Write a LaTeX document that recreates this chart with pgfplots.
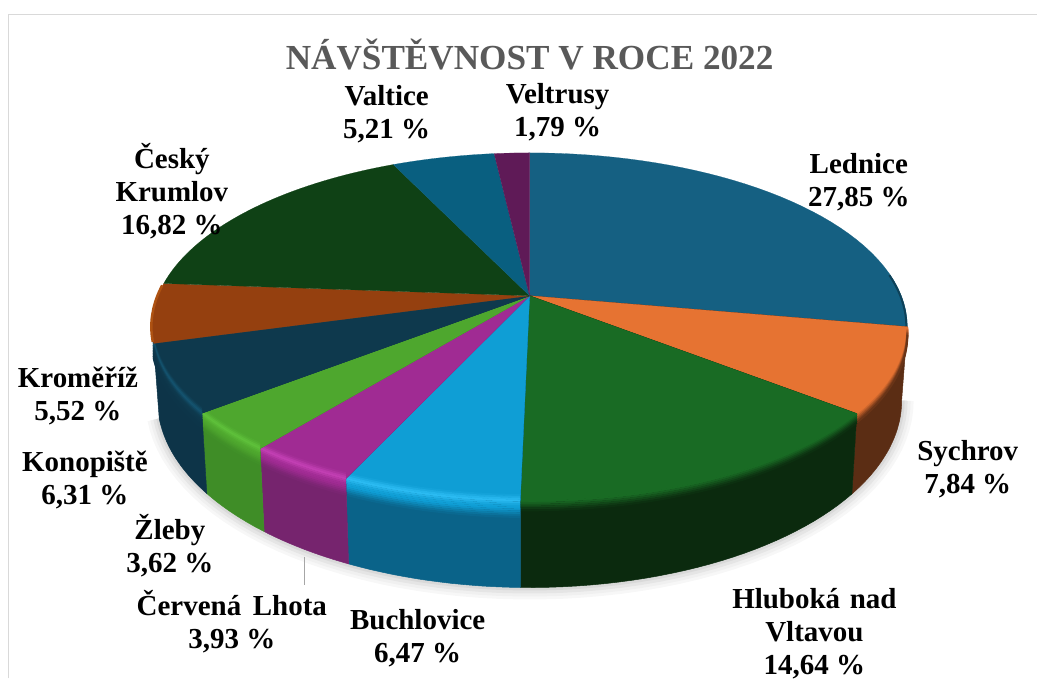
\documentclass[border=0pt]{standalone}
\usepackage{pgfplots}
\pgfplotsset{compat=1.18}
\usepackage{fontspec}
\setmainfont{Liberation Serif}

% Slice colours: top face, rim highlight, outer wall
\definecolor{cA}{HTML}{156082}
\definecolor{cAe}{HTML}{0E4158}
\definecolor{cB}{HTML}{E67332}
\definecolor{cBw}{HTML}{5B2D14}
\definecolor{cC}{HTML}{196B24}
\definecolor{cCw}{HTML}{0B2A0E}
\definecolor{cD}{HTML}{0F9ED5}
\definecolor{cDh}{HTML}{2BBBF2}
\definecolor{cDw}{HTML}{0A6389}
\definecolor{cE}{HTML}{A02B93}
\definecolor{cEh}{HTML}{C23FB3}
\definecolor{cEw}{HTML}{76246E}
\definecolor{cF}{HTML}{4EA72E}
\definecolor{cFh}{HTML}{5EC03A}
\definecolor{cFw}{HTML}{3F8D27}
\definecolor{cG}{HTML}{0E394D}
\definecolor{cGh}{HTML}{14536F}
\definecolor{cGw}{HTML}{0D3448}
\definecolor{cH}{HTML}{95400F}
\definecolor{cHe}{HTML}{AE5212}
\definecolor{cI}{HTML}{0F4115}
\definecolor{cJ}{HTML}{095F80}
\definecolor{cK}{HTML}{5F1A57}
\definecolor{titlegray}{HTML}{595959}
\definecolor{framegray}{HTML}{D9D9D9}

% Running total of the shares, in percent
\newcommand\running{0}

% One band of the rim, following the edge of the top face
\newcommand\RimBand[5]{%
  \addplot[draw=#4,line width=#5pt,domain=#1:#2,samples=30,line cap=butt]
    ({PX(x)},{PY(x)+(#3)*PS(x)});}

% Rim that only darkens from the top colour towards the wall
\newcommand\RimPlain[4]{%
  \RimBand{#1}{#2}{0.5}{#3}{2}
  \RimBand{#1}{#2}{2}{#4!15!#3}{2}
  \RimBand{#1}{#2}{3.5}{#4!35!#3}{2}
  \RimBand{#1}{#2}{5}{#4!55!#3}{2}
  \RimBand{#1}{#2}{6.5}{#4!75!#3}{2}
  \RimBand{#1}{#2}{8}{#4!90!#3}{2}
}
% Rim with a bright line along the edge, then darkening towards the wall
\newcommand\RimBright[5]{%
  \RimBand{#1}{#2}{-4.5}{#4!15!#3}{2}
  \RimBand{#1}{#2}{-3}{#4!45!#3}{2}
  \RimBand{#1}{#2}{-1.5}{#4!80!#3}{2}
  \RimBand{#1}{#2}{0}{#4}{2}
  \RimBand{#1}{#2}{1.5}{#4!70!#3}{2}
  \RimBand{#1}{#2}{3}{#4!35!#3}{2}
  \RimBand{#1}{#2}{4.5}{#4!10!#3}{2}
  \RimBand{#1}{#2}{6}{#3}{2}
  \RimBand{#1}{#2}{7.5}{#5!15!#3}{2}
  \RimBand{#1}{#2}{9}{#5!35!#3}{2}
  \RimBand{#1}{#2}{10.5}{#5!55!#3}{2}
  \RimBand{#1}{#2}{12}{#5!75!#3}{2}
  \RimBand{#1}{#2}{13.5}{#5!90!#3}{2}
}

% Outer wall and top face of one slice between two cumulative shares
\newcommand\WallTop[4]{%
  \addplot[fill=#4,draw=#4,line width=0.5pt,domain=#1:#2,samples=30]
    ({BX(x)},{BY(x)}) -- (axis cs:{PX(#2)},{PY(#2)}) -- (axis cs:530,296)
    -- (axis cs:{PX(#1)},{PY(#1)}) -- cycle;
  \addplot[fill=#3,draw=#3,line width=0.2pt,domain=#1:#2,samples=40]
    ({PX(x)},{PY(x)}) -- (axis cs:530,296) -- cycle;
}
\newcommand\TopOnly[3]{%
  \addplot[fill=#3,draw=#3,line width=0.2pt,domain=#1:#2,samples=40]
    ({PX(x)},{PY(x)}) -- (axis cs:530,296) -- cycle;
}
\newcommand\DrawPlain[5]{\WallTop{#1}{#2}{#3}{#5}\RimPlain{#1}{#2}{#3}{#5}}
\newcommand\DrawBright[5]{\WallTop{#1}{#2}{#3}{#5}\RimBright{#1}{#2}{#3}{#4}{#5}}

% Advance the running total by a share and hand both ends to a drawing command
\newcommand\Advance[1]{%
  \pgfmathsetmacro\pA{\running}%
  \pgfmathsetmacro\pB{\running+#1}%
  \xdef\running{\pB}%
}
\newcommand\PlainSlice[3]{\Advance{#1}\edef\doit{\noexpand\DrawPlain{\pA}{\pB}{#2}{#2}{#3}}\doit}
\newcommand\BrightSlice[4]{\Advance{#1}\edef\doit{\noexpand\DrawBright{\pA}{\pB}{#2}{#3}{#4}}\doit}
\newcommand\FlatSlice[2]{\Advance{#1}\edef\doit{\noexpand\TopOnly{\pA}{\pB}{#2}}\doit}

\newcommand\lab[3]{\node[font=\fontsize{29}{33}\selectfont\bfseries,align=center,text=black,inner sep=0pt] at (axis cs:#1,#2) {#3};}

\begin{document}
\begin{tikzpicture}
\begin{axis}[
  scale only axis, width=1038pt, height=679pt,
  xmin=0, xmax=1038, ymin=0, ymax=679, y dir=reverse,
  hide axis, clip=false,
  declare function={
    PS(\p)=1/(1+0.178*cos(3.6*\p));
    PX(\p)=530+372*sin(3.6*\p)*PS(\p);
    PY(\p)=296-168.5*cos(3.6*\p)*PS(\p);
    BX(\p)=530+0.985*(PX(\p)-530);
    BY(\p)=PY(\p)+71.5*PS(\p);
  },
]
% Page extent and chart frame
\path (axis cs:0,0) rectangle (axis cs:1038,679);
\draw[framegray,line width=1.6pt] (axis cs:8.5,679) -- (axis cs:8.5,14.5) -- (axis cs:1038,14.5);

% Soft shadow under the pie
\addplot[draw=black!3,line width=24pt,domain=27.85:70.66,samples=60] ({BX(x)},{BY(x)});
\addplot[draw=black!6,line width=18pt,domain=27.85:70.66,samples=60] ({BX(x)},{BY(x)});
\addplot[draw=black!10,line width=12pt,domain=27.85:70.66,samples=60] ({BX(x)},{BY(x)});
\addplot[draw=black!15,line width=6pt,domain=27.85:70.66,samples=60] ({BX(x)},{BY(x)});

% Slices in clockwise order from the top
\FlatSlice{27.85}{cA}
\PlainSlice{7.84}{cB}{cBw}
\PlainSlice{14.64}{cC}{cCw}
\BrightSlice{6.47}{cD}{cDh}{cDw}
\BrightSlice{3.93}{cE}{cEh}{cEw}
\BrightSlice{3.62}{cF}{cFh}{cFw}
\BrightSlice{6.31}{cG}{cGh}{cGw}
\FlatSlice{5.52}{cH}
\FlatSlice{16.82}{cI}
\FlatSlice{5.21}{cJ}
\FlatSlice{1.79}{cK}

% Edge tint where the top face turns away at the far right and far left
\addplot[draw=cAe,line width=2pt,domain=23:27.8,samples=20] ({PX(x)-1},{PY(x)});
\addplot[draw=cHe,line width=2.5pt,domain=70.8:76,samples=20] ({PX(x)-0.5},{PY(x)});

% Title, leader line and data labels
\node[font=\fontsize{35.2}{40}\selectfont\bfseries,text=titlegray,inner sep=0pt] at (axis cs:530,54.5) {NÁVŠTĚVNOST V ROCE 2022};
\draw[black!35,line width=0.9pt] (axis cs:305,557) -- (axis cs:305,585);
\lab{558}{112}{Veltrusy\\1,79 \%}
\lab{387}{114}{Valtice\\5,21 \%}
\lab{172}{191.5}{Český\\Krumlov\\16,82 \%}
\lab{859.5}{182.5}{Lednice\\27,85 \%}
\lab{968.5}{469.5}{Sychrov\\7,84 \%}
\lab{815}{634}{Hluboká\hspace{0.33em}nad\\Vltavou\\14,64 \%}
\lab{418}{639}{Buchlovice\\6,47 \%}
\lab{232}{622}{Červená\hspace{0.4em}Lhota\\3,93 \%}
\lab{170}{546}{Žleby\\3,62 \%}
\lab{85}{480}{Konopiště\\6,31 \%}
\lab{78}{396}{Kroměříž\\5,52 \%}
\end{axis}
\end{tikzpicture}
\end{document}
